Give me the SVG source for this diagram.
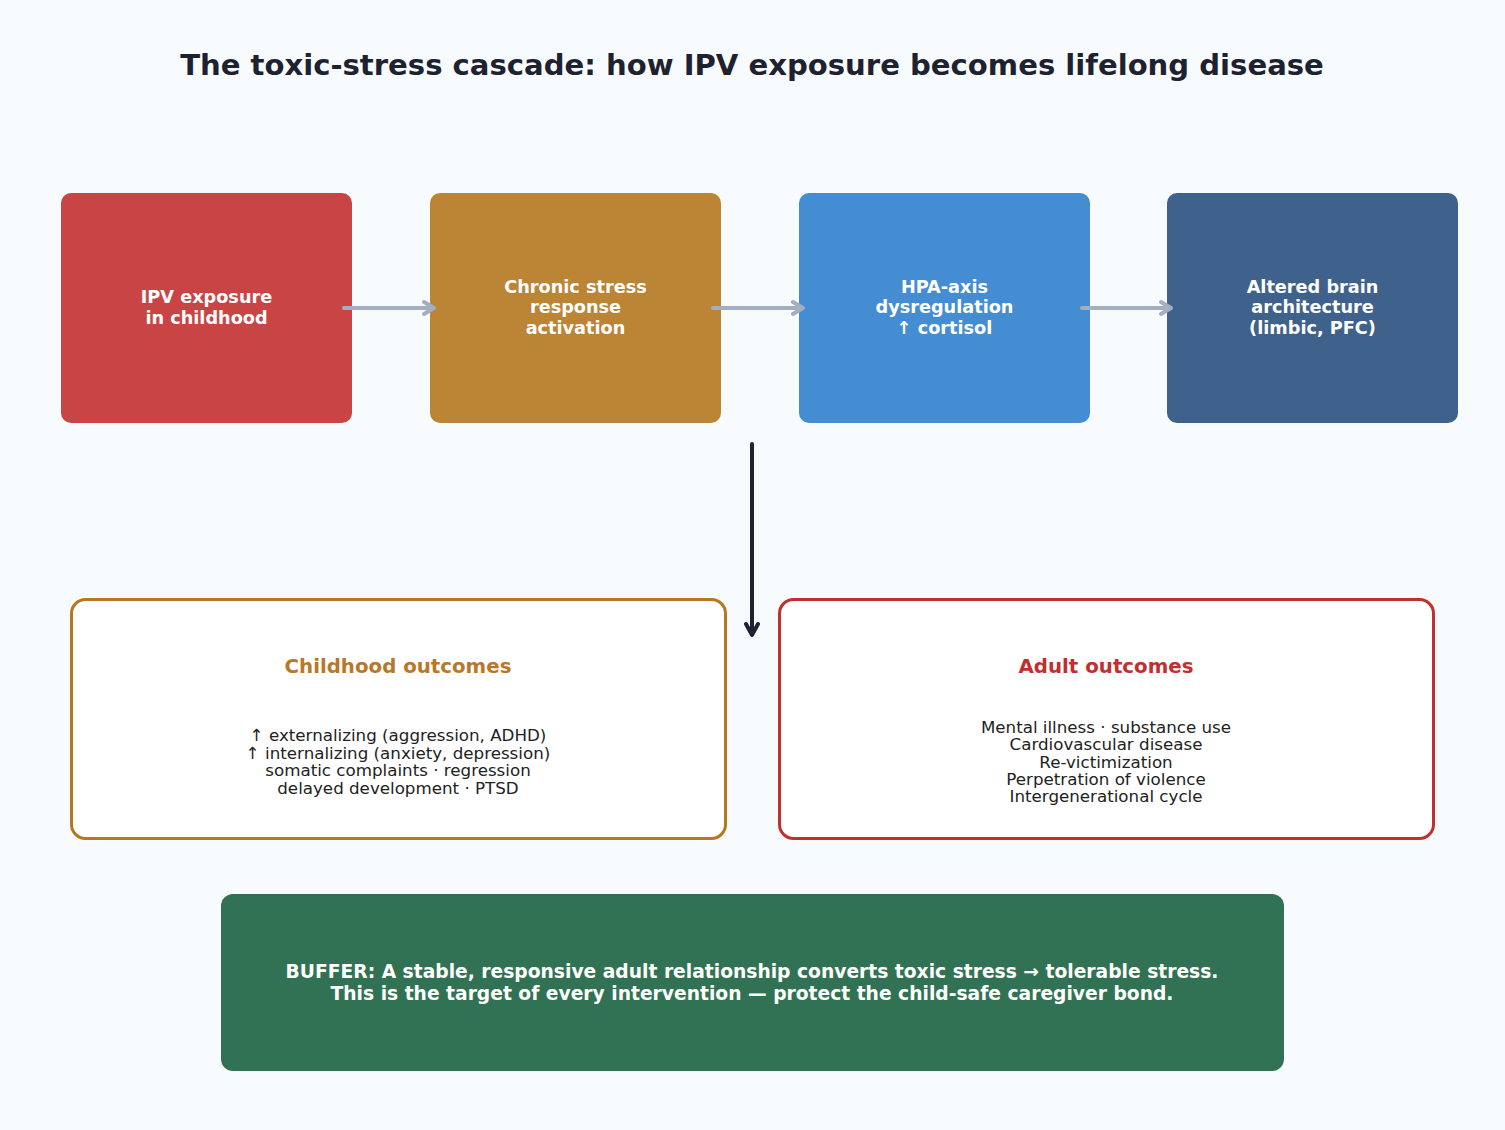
<svg xmlns="http://www.w3.org/2000/svg" width="1505" height="1130" viewBox="0 0 1505 1130">
<style>
.title{font-family:"DejaVu Sans",sans-serif;font-weight:bold;font-size:29.1px;fill:#1e2230;text-anchor:middle}
.nt{font-family:"DejaVu Sans",sans-serif;font-weight:bold;font-size:17.7px;fill:#ffffff;text-anchor:middle}
.ht{font-family:"DejaVu Sans",sans-serif;font-weight:bold;font-size:19.8px;text-anchor:middle}
.bt{font-family:"DejaVu Sans",sans-serif;font-size:16.7px;fill:#222222;text-anchor:middle}
.gt{font-family:"DejaVu Sans",sans-serif;font-weight:bold;font-size:18.7px;fill:#ffffff;text-anchor:middle}
.flow{fill:none;stroke:#a3aec0;stroke-width:4;stroke-linecap:round;stroke-linejoin:round}
.down{fill:none;stroke:#1e2230;stroke-width:4;stroke-linecap:round;stroke-linejoin:round}
</style>
<rect width="1505" height="1130" fill="#f8fbfd"/>
<text class="title" x="752" y="75">The toxic-stress cascade: how IPV exposure becomes lifelong disease</text>

<g id="node-ipv">
<rect x="61" y="193" width="291" height="230" rx="10" fill="#c94545"/>
<text class="nt" x="206.5" y="303">IPV exposure</text>
<text class="nt" x="206.5" y="324">in childhood</text>
</g>
<g id="node-chronic">
<rect x="430" y="193" width="291" height="230" rx="10" fill="#bb8535"/>
<text class="nt" x="575.5" y="293">Chronic stress</text>
<text class="nt" x="575.5" y="313">response</text>
<text class="nt" x="575.5" y="334">activation</text>
</g>
<g id="node-hpa">
<rect x="799" y="193" width="291" height="230" rx="10" fill="#458dd3"/>
<text class="nt" x="944.5" y="293">HPA-axis</text>
<text class="nt" x="944.5" y="313">dysregulation</text>
<text class="nt" x="944.5" y="334">↑ cortisol</text>
</g>
<g id="node-brain">
<rect x="1167" y="193" width="291" height="230" rx="10" fill="#3f628c"/>
<text class="nt" x="1312.5" y="293">Altered brain</text>
<text class="nt" x="1312.5" y="313">architecture</text>
<text class="nt" x="1312.5" y="334">(limbic, PFC)</text>
</g>

<g id="node-childhood">
<rect x="71.5" y="599.5" width="654" height="239" rx="14" fill="#ffffff" stroke="#b5781f" stroke-width="3"/>
<text class="ht" x="398" y="673" fill="#b8782a">Childhood outcomes</text>
<text class="bt" x="398" y="741">↑ externalizing (aggression, ADHD)</text>
<text class="bt" x="398" y="759">↑ internalizing (anxiety, depression)</text>
<text class="bt" x="398" y="776">somatic complaints · regression</text>
<text class="bt" x="398" y="794">delayed development · PTSD</text>
</g>
<g id="node-adult">
<rect x="779.5" y="599.5" width="654" height="239" rx="14" fill="#ffffff" stroke="#c0302f" stroke-width="3"/>
<text class="ht" x="1106" y="673" fill="#c0302f">Adult outcomes</text>
<text class="bt" x="1106" y="733">Mental illness · substance use</text>
<text class="bt" x="1106" y="750">Cardiovascular disease</text>
<text class="bt" x="1106" y="768">Re-victimization</text>
<text class="bt" x="1106" y="785">Perpetration of violence</text>
<text class="bt" x="1106" y="802">Intergenerational cycle</text>
</g>

<g id="node-buffer">
<rect x="221" y="894" width="1063" height="177" rx="12" fill="#327254"/>
<text class="gt" x="752" y="978">BUFFER: A stable, responsive adult relationship converts toxic stress → tolerable stress.</text>
<text class="gt" x="752" y="1000">This is the target of every intervention — protect the child-safe caregiver bond.</text>
</g>

<g id="connectors">
<path class="flow" d="M344,308 H434 M424,302 L434,308 L424,314"/>
<path class="flow" d="M713,308 H803 M793,302 L803,308 L793,314"/>
<path class="flow" d="M1082,308 H1171 M1161,302 L1171,308 L1161,314"/>
<path class="down" d="M752,444 V635 M746,624 L752,635 L758,624"/>
</g>
</svg>
